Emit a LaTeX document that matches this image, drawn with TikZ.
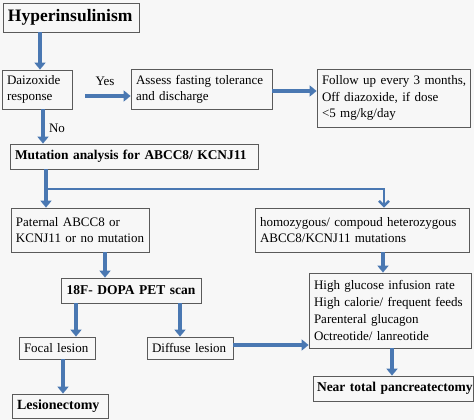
\documentclass[tikz,border=0pt]{standalone}
\usepackage{fontspec}
\setmainfont{Liberation Serif}
\usetikzlibrary{arrows.meta}
\definecolor{arrowblue}{HTML}{4A78B2}
\definecolor{bgcol}{HTML}{F7F7F7}
\definecolor{edgecol}{HTML}{5A5A5A}
\tikzset{
  box/.style={draw=edgecol, line width=0.8pt, inner xsep=5pt, inner ysep=0pt,
    font=\fontsize{13}{16.5}\selectfont, align=left},
  bbox/.style={box, font=\fontsize{13.4}{16}\selectfont\bfseries},
  big/.style={draw=arrowblue, line width=4.5pt, -{Triangle[width=11pt,length=7pt]}},
  thinarrow/.style={draw=arrowblue, line width=2.4pt, -{Straight Barb[width=10pt,length=5pt]}},
  lbl/.style={font=\fontsize{13}{15}\selectfont, inner sep=0pt}
}
\newcommand{\oneline}[1]{\mbox{#1}}
\begin{document}
\begin{tikzpicture}[x=1pt,y=-1pt]
\useasboundingbox[fill=bgcol] (0,0) rectangle (474,420);

\node[bbox, font=\fontsize{17.5}{20}\selectfont\bfseries, minimum width=136, minimum height=29, text width=126] (hyp) at (71,17.5) {\oneline{Hyperinsulinism}};
\node[box, minimum width=70, minimum height=39, text width=60] (dai) at (37,89.5) {\oneline{Daizoxide}\\\oneline{response}};
\node[box, minimum width=141, minimum height=40, text width=131] (assess) at (201.5,89.5) {\oneline{Assess fasting tolerance}\\\oneline{and discharge}};
\node[box, minimum width=153, minimum height=58, text width=143] (follow) at (393.5,98) {\oneline{Follow up every 3 months,}\\\oneline{Off diazoxide, if dose}\\\oneline{<5 mg/kg/day}};
\node[bbox, minimum width=248, minimum height=25, text width=238] (mut) at (134,156.5) {\oneline{Mutation analysis for ABCC8/ KCNJ11}};
\node[box, minimum width=138, minimum height=44, text width=128] (pat) at (80,230) {\oneline{Paternal ABCC8 or}\\\oneline{KCNJ11 or no mutation}};
\node[box, minimum width=214, minimum height=44, text width=204] (hom) at (362,230) {\oneline{homozygous/ compoud heterozygous}\\\oneline{ABCC8/KCNJ11 mutations}};
\node[bbox, font=\fontsize{13.5}{16}\selectfont\bfseries, minimum width=140, minimum height=25, text width=130, align=center] (pet) at (131,290.5) {\oneline{18F- DOPA PET scan}};
\node[box, minimum width=76, minimum height=22, text width=66] (focal) at (57,348) {\oneline{Focal lesion}};
\node[box, minimum width=86, minimum height=22, text width=76] (diff) at (190,348) {\oneline{Diffuse lesion}};
\node[bbox, font=\fontsize{14}{17}\selectfont\bfseries, minimum width=96, minimum height=24, text width=86] (les) at (60,406) {\oneline{Lesionectomy}};
\node[box, font=\fontsize{13}{17}\selectfont, minimum width=162, minimum height=75, text width=152] (high) at (390,310.5) {\oneline{High glucose infusion rate}\\\oneline{High calorie/ frequent feeds}\\\oneline{Parenteral glucagon}\\\oneline{Octreotide/ lanreotide}};
\node[bbox, font=\fontsize{13.5}{17}\selectfont\bfseries, minimum width=160, minimum height=25, text width=152, inner xsep=4pt] (near) at (393,388.5) {\oneline{Near total pancreatectomy}};

\node[lbl] (yes) at (105,81) {Yes};
\node[lbl] (no) at (57,128) {No};
\coordinate (yesstart) at (85,96);
\coordinate (br) at (46,189);

\draw[big] ([xshift=-31]hyp.south) -- ([xshift=3]dai.north);
\draw[big] (yesstart) -- (assess.west |- yesstart);
\draw[big] ([yshift=-1.5]assess.east) -- ([yshift=7]follow.west);
\draw[big] ([xshift=6]dai.south) -- ([xshift=-91]mut.north);
\draw[big] ([xshift=-88]mut.south) -- ([xshift=-34]pat.north);
\draw[thinarrow] (br) -| ([xshift=22]hom.north);
\draw[big] ([xshift=25]pat.south) -- ([xshift=-26]pet.north);
\draw[big] ([xshift=-55]pet.south) -- ([xshift=19]focal.north);
\draw[big] ([xshift=49]pet.south) -- ([xshift=-10]diff.north);
\draw[big] ([xshift=6]focal.south) -- ([xshift=3]les.north);
\draw[big] ([yshift=3]diff.east) -- ([yshift=-34.5]high.west);
\draw[big] ([xshift=21]hom.south) -- ([xshift=-7]high.north);
\draw[big] ([xshift=2]high.south) -- ([xshift=-1]near.north);
\end{tikzpicture}
\end{document}
